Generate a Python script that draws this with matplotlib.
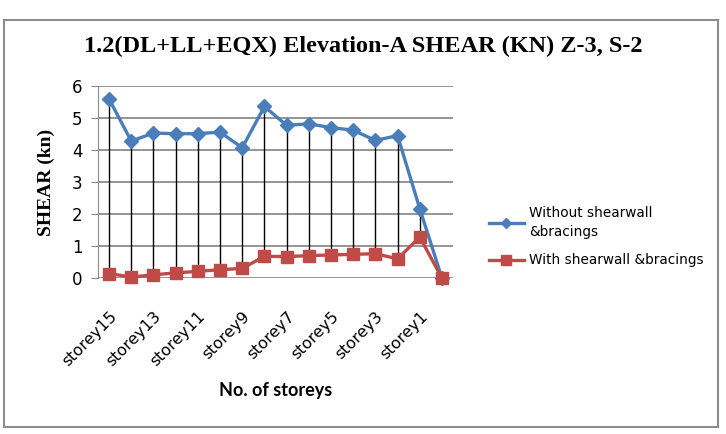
import matplotlib.pyplot as plt
from matplotlib.patches import Rectangle
import numpy as np

# storey labels (top storey first) and shear values in kN
storeys = ['storey15', 'storey14', 'storey13', 'storey12', 'storey11', 'storey10',
           'storey9', 'storey8', 'storey7', 'storey6', 'storey5', 'storey4',
           'storey3', 'storey2', 'storey1', 'base']
without_sw = [5.59, 4.28, 4.53, 4.51, 4.51, 4.56, 4.07, 5.36, 4.77, 4.82,
              4.70, 4.62, 4.30, 4.45, 2.17, 0.0]
with_sw = [0.14, 0.03, 0.10, 0.16, 0.21, 0.26, 0.30, 0.68, 0.67, 0.70,
           0.72, 0.74, 0.76, 0.60, 1.28, 0.0]

blue = '#4A7EBB'
red = '#BE4B48'

fig = plt.figure(figsize=(7.26, 4.34), dpi=100)
ax = fig.add_axes([0.135, 0.3594, 0.489, 0.4424])

x = np.arange(len(storeys))
lo = np.minimum(without_sw, with_sw)
hi = np.maximum(without_sw, with_sw)
ax.vlines(x, lo, hi, color='black', lw=1.0, zorder=2)

ax.plot(x, without_sw, color=blue, lw=2.4, marker='D', ms=7,
        label='Without shearwall\n&bracings', zorder=3, clip_on=False)
ax.plot(x, with_sw, color=red, lw=2.4, marker='s', ms=9,
        label='With shearwall &bracings', zorder=4, clip_on=False)

ax.set_xlim(-0.5, len(storeys) - 0.5)
ax.set_ylim(0, 6)
ax.set_yticks(range(0, 7))
ax.tick_params(axis='y', labelsize=12, length=5, color='#888888', pad=6)
ax.set_xticks(x[::2])
ax.set_xticklabels(storeys[::2], rotation=45, ha='right', rotation_mode='anchor',
                   fontsize=11.5)
ax.tick_params(axis='x', length=0, pad=22)
ax.grid(axis='y', color='#8C8C8C', lw=1.3)
ax.set_axisbelow(True)
for s in ['top', 'right', 'bottom']:
    ax.spines[s].set_visible(False)
ax.spines['left'].set_color('#8C8C8C')

ax.set_ylabel('SHEAR (kn)', fontsize=14, fontweight='bold',
              family='Liberation Serif', labelpad=12)
ax.set_xlabel('No. of storeys', fontsize=13, fontweight='bold', family='Lato',
              labelpad=9)

fig.text(0.5, 0.892, '1.2(DL+LL+EQX) Elevation-A SHEAR (KN) Z-3, S-2',
         ha='center', va='center', fontsize=17.5, fontweight='bold',
         family='Liberation Serif')

leg = fig.legend(loc='center left', bbox_to_anchor=(0.656, 0.455), frameon=False,
                 fontsize=9.8, handlelength=2.6, labelspacing=1.1, handletextpad=0.4,
                 markerscale=0.75)
for t in leg.get_texts():
    t.set_linespacing(1.45)

fig.patches.append(Rectangle((0.006, 0.017), 0.983, 0.937, transform=fig.transFigure,
                             fill=False, edgecolor='#8C8C8C', lw=1.5))

fig.savefig('out.png', dpi=100)
